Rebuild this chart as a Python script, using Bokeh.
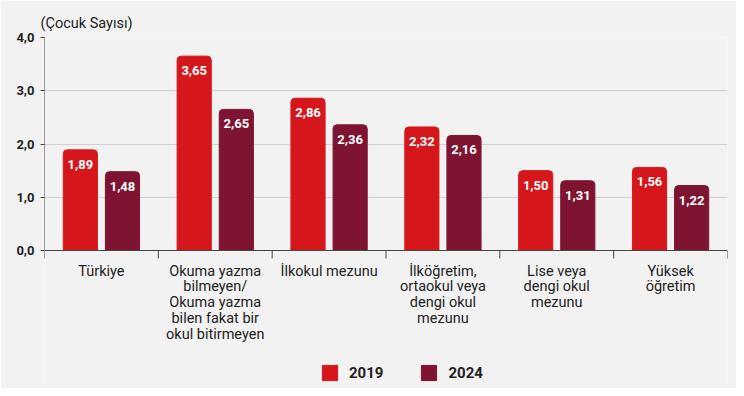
import math
from bokeh.plotting import figure
from bokeh.models import ColumnDataSource, FixedTicker, Legend, LegendItem, Range1d
from bokeh.core.properties import value
from bokeh.embed import file_html
from bokeh.resources import INLINE

categories = ["Türkiye", "Okuma yazma\nbilmeyen/\nOkuma yazma\nbilen fakat bir\nokul bitirmeyen",
              "İlkokul mezunu", "İlköğretim,\nortaokul veya\ndengi okul\nmezunu",
              "Lise veya\ndengi okul\nmezunu", "Yüksek\nöğretim"]
series = ["2019", "2024"]
y2019 = [1.89, 3.65, 2.86, 2.32, 1.50, 1.56]
y2024 = [1.48, 2.65, 2.36, 2.16, 1.31, 1.22]
y_ticks = [0, 1, 2, 3, 4]
y_tick_labels = ["0,0", "1,0", "2,0", "3,0", "4,0"]

RED = "#d5171c"
DARK = "#7e1432"
BG = "#f2f2f2"
AXIS = "#444444"
FONT = "Roboto"

n = len(categories)
centers = [i + 0.5 for i in range(n)]
bounds = list(range(n + 1))
off = 0.185
w = 0.3

# frame spans the chart plus the space for category labels and legend
PLOT_H = 213          # px for 0..4
EXTRA_H = 138         # px below the zero line
ymax = max(y_ticks)
ymin = -EXTRA_H * ymax / PLOT_H

def fmt(v):
    return f"{v:.2f}".replace(".", ",")

s1 = ColumnDataSource(dict(x=[c - off for c in centers], top=y2019, lab=[fmt(v) for v in y2019]))
s2 = ColumnDataSource(dict(x=[c + off for c in centers], top=y2024, lab=[fmt(v) for v in y2024]))
sc = ColumnDataSource(dict(x=centers, y=[0] * n, lab=categories))

p = figure(frame_width=683, frame_height=PLOT_H + EXTRA_H, output_backend="svg", toolbar_location=None,
           x_range=Range1d(0, n), y_range=Range1d(ymin, ymax),
           min_border_left=44, min_border_right=9, min_border_top=37, min_border_bottom=0)

p.background_fill_color = BG
p.border_fill_color = BG
p.outline_line_color = None

p.title.text = "(Çocuk Sayısı)"
p.title.text_font = FONT
p.title.text_font_size = "14.5px"
p.title.text_font_style = "normal"
p.title.text_color = "#222222"
p.title.offset = -4
p.title.standoff = 12

p.xgrid.grid_line_color = None
p.ygrid.grid_line_color = "#d0d0d0"
p.ygrid.ticker = FixedTicker(ticks=y_ticks)

r1 = p.vbar(x="x", top="top", width=w, source=s1, color=RED, border_radius=(4, 4, 0, 0))
r2 = p.vbar(x="x", top="top", width=w, source=s2, color=DARK, border_radius=(4, 4, 0, 0))

for s in (s1, s2):
    p.text(x="x", y="top", text="lab", source=s, text_color="white", text_font=value(FONT),
           text_font_style="bold", text_font_size="13px", text_align="center",
           text_baseline="top", y_offset=10)

# axis lines and category separators drawn as glyphs
p.segment(x0=[0, 0], y0=[0, 0], x1=[n, 0], y1=[0, ymax], line_color=AXIS, line_width=1)
p.ray(x=bounds, y=[0] * len(bounds), length=8, length_units="screen", angle=-math.pi / 2,
      line_color=AXIS, line_width=1)

# category labels
p.text(x="x", y="y", text="lab", source=sc, text_color="#222222", text_font=value(FONT),
       text_font_size="14.5px", text_align="center", text_baseline="top",
       text_line_height=0.94, y_offset=12)

# y axis
p.yaxis.ticker = FixedTicker(ticks=y_ticks)
p.yaxis.major_label_overrides = {t: l for t, l in zip(y_ticks, y_tick_labels)}
p.yaxis.major_label_text_font = FONT
p.yaxis.major_label_text_font_style = "bold"
p.yaxis.major_label_text_font_size = "13px"
p.yaxis.major_label_text_color = "#222222"
p.yaxis.axis_line_color = None
p.yaxis.major_tick_line_color = AXIS
p.yaxis.major_tick_in = 0
p.yaxis.major_tick_out = 4
p.yaxis.minor_tick_line_color = None
p.yaxis.major_label_standoff = 6

p.xaxis.visible = False

legend = Legend(items=[LegendItem(label=series[0], renderers=[r1]),
                       LegendItem(label=series[1], renderers=[r2])],
                orientation="horizontal", location=(276, 6),
                glyph_width=19, glyph_height=19, spacing=36, label_standoff=10,
                label_text_font=FONT, label_text_font_style="bold", label_text_font_size="15px",
                label_text_color="#222222", background_fill_alpha=0, border_line_color=None,
                margin=0, padding=0)
p.add_layout(legend)

open("out.html", "w").write(file_html(p, INLINE))
